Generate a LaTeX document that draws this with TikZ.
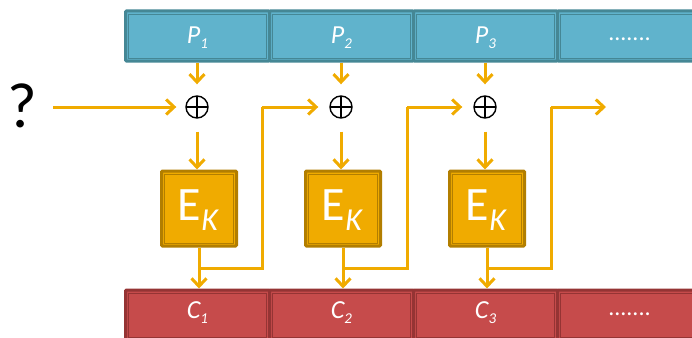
\documentclass[tikz,border=0pt]{standalone}
\usepackage{fontspec}
\setmainfont{Carlito}
\usetikzlibrary{arrows.meta}
\definecolor{pfill}{HTML}{60B3CC}
\definecolor{pline}{HTML}{458795}
\definecolor{cfill}{HTML}{C64B4B}
\definecolor{cline}{HTML}{953434}
\definecolor{efill}{HTML}{F0AB00}
\definecolor{eline}{HTML}{B27E00}
\definecolor{arr}{HTML}{F0AB00}
\tikzset{
  cellbox/.style={minimum width=144pt, minimum height=50pt, inner sep=0pt, line width=3pt,
     rounded corners=1pt},
  pcell/.style={cellbox, fill=pfill, draw=pline},
  ccell/.style={cellbox, fill=cfill, draw=cline},
  celltext/.style={font=\fontsize{26}{28}\selectfont\itshape, text=white},
  ebox/.style={minimum width=75pt, minimum height=75pt, inner sep=0pt, fill=efill, draw=eline,
     line width=3pt, rounded corners=1pt, text=white},
  xorn/.style={circle, draw=black, line width=1.4pt, minimum size=22pt, inner sep=0pt,
     path picture={\draw[black, line width=1.4pt] (path picture bounding box.north) -- (path picture bounding box.south)
       (path picture bounding box.west) -- (path picture bounding box.east);}},
  flow/.style={draw=arr, line width=3pt, -{Straight Barb[length=8pt,width=15pt]}},
  line/.style={draw=arr, line width=3pt},
}
\newcommand{\innerframe}[2]{\draw[#2, line width=0.9pt] ([xshift=4.5pt,yshift=-4.5pt]#1.north west) rectangle ([xshift=-4.5pt,yshift=4.5pt]#1.south east);}
\newcommand{\subn}[1]{\raisebox{-5pt}{\fontsize{15}{16}\selectfont #1}}
\begin{document}
\begin{tikzpicture}[x=1pt,y=-1pt]
\useasboundingbox (0,0) rectangle (692,337);
% top bar
\node[pcell] (p1) at (197.5,36) {};
\node[pcell] (p2) at (341.5,36) {};
\node[pcell] (p3) at (485.5,36) {};
\node[pcell] (p4) at (629.5,36) {};
\foreach \n in {p1,p2,p3,p4}{\innerframe{\n}{pline}}
\node[celltext] at ([yshift=-2pt]p1) {P\subn{1}};
\node[celltext] at ([yshift=-2pt]p2) {P\subn{2}};
\node[celltext] at ([yshift=-2pt]p3) {P\subn{3}};
\node[celltext, font=\fontsize{24}{26}\selectfont] at ([yshift=-3pt]p4) {.......};
% bottom bar
\node[ccell] (c1) at (197.5,315) {};
\node[ccell] (c2) at (341.5,315) {};
\node[ccell] (c3) at (485.5,315) {};
\node[ccell] (c4) at (629.5,315) {};
\foreach \n in {c1,c2,c3,c4}{\innerframe{\n}{cline}}
\node[celltext] at ([yshift=2pt]c1) {C\subn{1}};
\node[celltext] at ([yshift=2pt]c2) {C\subn{2}};
\node[celltext] at ([yshift=2pt]c3) {C\subn{3}};
\node[celltext, font=\fontsize{24}{26}\selectfont] at ([yshift=1pt]c4) {.......};
% xor nodes
\node[xorn] (x1) at (197,107) {};
\node[xorn] (x2) at (341,107) {};
\node[xorn] (x3) at (485,107) {};
% E boxes
\node[ebox] (e1) at (199,208.5) {};
\node[ebox] (e2) at (343,208.5) {};
\node[ebox] (e3) at (487,208.5) {};
\foreach \n in {e1,e2,e3}{\innerframe{\n}{eline}
  \node[text=white, font=\fontsize{48}{50}\selectfont] at ([xshift=-1pt,yshift=-2pt]\n) {E\raisebox{-10pt}{\fontsize{32}{34}\selectfont\itshape K}};}
% question mark
\node[font=\fontsize{64}{66}\selectfont] (q) at (22,106) {?};
% coordinates
\coordinate (f1a) at (199,268);
\coordinate (f1b) at (262,268);
\coordinate (f1c) at (262,107);
\coordinate (f2a) at (343,268);
\coordinate (f2b) at (407,268);
\coordinate (f2c) at (407,107);
\coordinate (f3a) at (487,268);
\coordinate (f3b) at (551,268);
\coordinate (f3c) at (551,107);
\coordinate (out) at (606,107);
\coordinate (in) at (53,107);
% arrows
\draw[flow] (in) -- ([xshift=-9pt]x1.west);
\foreach \i in {1,2,3}{
  \draw[flow] (x\i |- p\i.south) -- ([yshift=11pt]x\i.north);
  \draw[flow] ([yshift=-13pt]x\i.south) -- (x\i.south |- e\i.north);
  \draw[flow] (e\i.south) -- (e\i.south |- c\i.north);
}
\draw[line] (f1a) -- (f1b) -- (f1c);
\draw[flow] (f1c) -- ([xshift=-11pt]x2.west);
\draw[line] (f2a) -- (f2b) -- (f2c);
\draw[flow] (f2c) -- ([xshift=-11pt]x3.west);
\draw[line] (f3a) -- (f3b) -- (f3c);
\draw[flow] (f3c) -- (out);
\end{tikzpicture}
\end{document}
